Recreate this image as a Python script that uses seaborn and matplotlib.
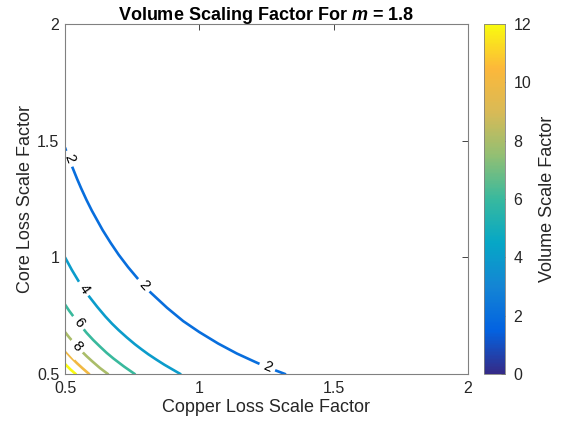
import numpy as np
import matplotlib
matplotlib.use('Agg')
import matplotlib.pyplot as plt
import seaborn as sns
from matplotlib.colors import LinearSegmentedColormap, Normalize
from matplotlib.cm import ScalarMappable

# contour levels and the points (copper, core)
levels = [2, 4, 6, 8, 10, 12]

c2_x = [0.50, 0.515, 0.525, 0.545, 0.56, 0.58, 0.60, 0.64, 0.67, 0.70, 0.735, 0.77,
        0.793, 0.82, 0.88, 0.94, 1.00, 1.07, 1.14, 1.21, 1.253, 1.29, 1.32]
c2_y = [1.470, 1.422, 1.393, 1.336, 1.296, 1.246, 1.200, 1.117, 1.062, 1.011, 0.958, 0.910,
        0.880, 0.848, 0.784, 0.727, 0.680, 0.631, 0.588, 0.551, 0.529, 0.513, 0.500]

c4_x = [0.50, 0.525, 0.55, 0.57, 0.59, 0.62, 0.65, 0.675, 0.70, 0.73, 0.76, 0.785,
        0.81, 0.84, 0.87, 0.90, 0.93]
c4_y = [1.000, 0.947, 0.899, 0.866, 0.832, 0.788, 0.747, 0.716, 0.688, 0.657, 0.628, 0.606,
        0.585, 0.562, 0.540, 0.520, 0.500]

c6_x = [0.50, 0.515, 0.535, 0.55, 0.58, 0.605, 0.63, 0.655, 0.68, 0.72, 0.76]
c6_y = [0.798, 0.772, 0.741, 0.720, 0.677, 0.646, 0.618, 0.591, 0.567, 0.532, 0.500]

c8_x = [0.50, 0.515, 0.53, 0.545, 0.56, 0.58, 0.60, 0.63, 0.66]
c8_y = [0.680, 0.658, 0.638, 0.619, 0.600, 0.577, 0.556, 0.526, 0.500]

c10_x = [0.50, 0.52, 0.545, 0.565, 0.59]
c10_y = [0.601, 0.575, 0.546, 0.525, 0.500]

c12_x = [0.50, 0.52, 0.54]
c12_y = [0.543, 0.520, 0.500]

curves = {2: (c2_x, c2_y), 4: (c4_x, c4_y), 6: (c6_x, c6_y),
          8: (c8_x, c8_y), 10: (c10_x, c10_y), 12: (c12_x, c12_y)}

# which point of a curve carries a label
label_idx = {2: [1, 12, 20], 4: [3], 6: [3], 8: [3]}

ticks = [0.5, 1, 1.5, 2]
cbar_ticks = [0, 2, 4, 6, 8, 10, 12]

# parula-like colormap
parula = LinearSegmentedColormap.from_list('parula', [
    '#352a87', '#0363e1', '#1485d4', '#06a7c6', '#38b99e',
    '#92bf73', '#d9ba56', '#fcb83a', '#f9fb0e'])
norm = Normalize(0, 12)

sns.set_theme(style='white')
plt.rcParams['font.family'] = ['Liberation Sans', 'DejaVu Sans']
plt.rcParams['mathtext.fontset'] = 'custom'
plt.rcParams['mathtext.it'] = 'Liberation Sans:bold:italic'
plt.rcParams['mathtext.rm'] = 'Liberation Sans:bold'

fig = plt.figure(figsize=(5.61, 4.28), dpi=100)
ax = fig.add_axes([0.1159, 0.126, 0.718, 0.818])
cax = fig.add_axes([0.8627, 0.126, 0.0374, 0.818])

for lev in levels:
    xs, ys = curves[lev]
    sns.lineplot(x=xs, y=ys, sort=False, estimator=None, ax=ax,
                 color=parula(norm(lev)), linewidth=1.9, zorder=2)

ax.set_xlim(0.5, 2)
ax.set_ylim(0.5, 2)
fig.canvas.draw()

# inline labels, rotated along the line
for lev, idxs in label_idx.items():
    xs, ys = curves[lev]
    pts = ax.transData.transform(np.column_stack([xs, ys]))
    for i in idxs:
        d = pts[i + 1] - pts[i - 1]
        ang = np.degrees(np.arctan2(d[1], d[0]))
        if ang < -90:
            ang += 180
        if ang > 90:
            ang -= 180
        ax.text(xs[i], ys[i], str(lev), rotation=ang, rotation_mode='anchor',
                ha='center', va='center', fontsize=10.5, color='black', zorder=2.2,
                bbox=dict(boxstyle='square,pad=0.3', fc='white', ec='none'))

ax.set_xticks(ticks)
ax.set_yticks(ticks)
ax.set_xticklabels(['0.5', '1', '1.5', '2'])
ax.set_yticklabels(['0.5', '1', '1.5', '2'])
ax.tick_params(direction='in', length=4, width=0.6, colors='#262626',
               labelsize=11.5, top=True, right=True)
ax.tick_params(axis='x', pad=5)
ax.tick_params(axis='y', pad=4)
for s in ax.spines.values():
    s.set_color('#808080')
    s.set_linewidth(0.8)

ax.set_xlabel('Copper Loss Scale Factor', fontsize=13, color='#262626', labelpad=2)
ax.set_ylabel('Core Loss Scale Factor', fontsize=13, color='#262626', labelpad=2)
ax.set_title('Volume Scaling Factor For $m$ = 1.8', fontsize=13, fontweight='bold',
             color='black', pad=3)

sm = ScalarMappable(norm=norm, cmap=parula)
cb = fig.colorbar(sm, cax=cax, ticks=cbar_ticks)
cb.outline.set_edgecolor('#808080')
cb.outline.set_linewidth(0.6)
cax.tick_params(direction='in', length=3, width=0.6, colors='#262626', labelsize=11.5, pad=6)
cb.set_label('Volume Scale Factor', fontsize=13, color='#262626', labelpad=6)

fig.savefig('out.png', dpi=100)
